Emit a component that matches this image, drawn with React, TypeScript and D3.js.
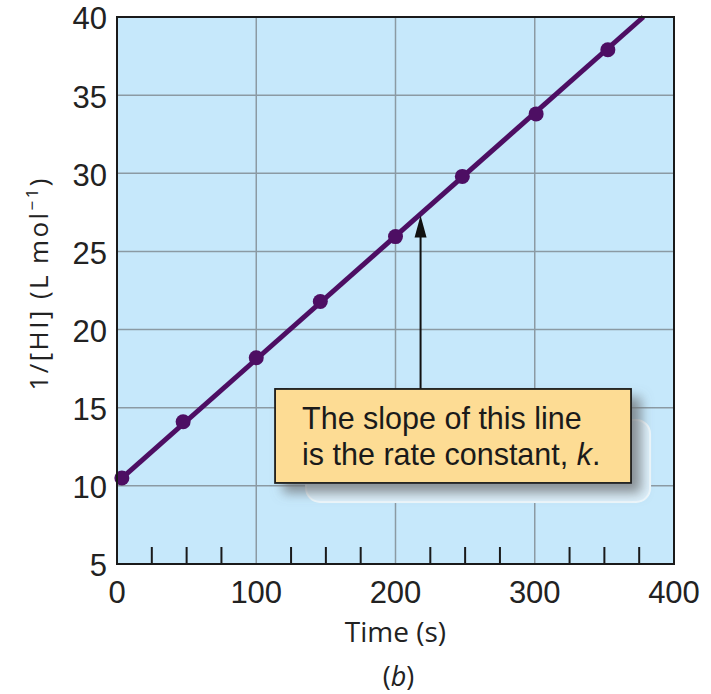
import React from 'react';
import * as d3 from 'd3';

// reading of the plotted points (time in s, 1/[HI] in L/mol)
const times = [3.5, 47.5, 100, 146, 200, 248, 301, 352.5];
const invConc = [10.5, 14.1, 18.2, 21.8, 25.95, 29.8, 33.8, 37.9];
// straight fit drawn through the points, runs out of the top of the frame
const fitTimes = [3.5, 378];
const fitValues = [10.5, 40];
const xTicks = [0, 100, 200, 300, 400];
const xMinorTicks = [25, 50, 75, 125, 150, 175, 225, 250, 275, 325, 350, 375];
const yTicks = [5, 10, 15, 20, 25, 30, 35, 40];
const noteLines = ['The slope of this line', 'is the rate constant, '];
const arrowTarget = { t: 218, v: 27.3 };

const W = 711;
const H = 694;
const margin = { top: 17, right: 37, bottom: 130, left: 117 };
const font = '"Open Sans", "Liberation Sans", Arial, sans-serif';
const tickFont = '"Liberation Sans", Arial, sans-serif';

export default function App() {
  const iw = W - margin.left - margin.right;
  const ih = H - margin.top - margin.bottom;

  const x = d3.scaleLinear().domain([0, 400]).range([0, iw]);
  const y = d3.scaleLinear().domain([5, 40]).range([ih, 0]);

  const pts = times.map((t, i) => ({ t, v: invConc[i] }));
  const fit = fitTimes.map((t, i) => ({ t, v: fitValues[i] }));
  const line = d3.line<{ t: number; v: number }>()
    .x(d => x(d.t))
    .y(d => y(d.v));

  // callout box, in plot coords
  const box = { x: x(113.5), y: y(16.2), w: 356, h: 94 };
  const ax = x(arrowTarget.t);
  const ay = y(arrowTarget.v);

  return (
    <svg width={W} height={H} style={{ position: 'absolute', left: 0, top: 0, background: '#fff' }}>
      <defs>
        <filter id="shadow" x="-20%" y="-20%" width="150%" height="170%">
          <feDropShadow dx="9" dy="9" stdDeviation="6" floodColor="#6d6f73" floodOpacity="0.75" />
        </filter>
      </defs>
      <g transform={`translate(${margin.left},${margin.top})`}>
        <rect width={iw} height={ih} fill="#c6e8fb" />

        {xTicks.slice(1, -1).map(t => (
          <line key={'gx' + t} x1={x(t)} x2={x(t)} y1={0} y2={ih} stroke="#8b9aa3" strokeWidth={1.5} />
        ))}
        {yTicks.slice(1, -1).map(v => (
          <line key={'gy' + v} x1={0} x2={iw} y1={y(v)} y2={y(v)} stroke="#8b9aa3" strokeWidth={1.5} />
        ))}
        {xMinorTicks.map(t => (
          <line key={'mt' + t} x1={x(t)} x2={x(t)} y1={ih} y2={ih - 17} stroke="#1a1a1a" strokeWidth={2} />
        ))}

        {/* pale halo under the callout */}
        <rect x={box.x + 31} y={box.y + 31} width={box.w - 12} height={box.h - 12} rx={14}
          fill="#dcf0fb" stroke="#eef8fd" strokeWidth={2} />

        <path d={line(fit) ?? ''} fill="none" stroke="#4d0e63" strokeWidth={5} />
        {pts.map((d, i) => (
          <circle key={i} cx={x(d.t)} cy={y(d.v)} r={7.5} fill="#4d0e63" />
        ))}

        {/* arrow from the box to the line */}
        <line x1={ax} x2={ax} y1={box.y} y2={ay + 18} stroke="#111" strokeWidth={2} />
        <path d={`M${ax},${ay} L${ax - 6},${ay + 22} L${ax + 6},${ay + 22} Z`} fill="#111" />

        <rect x={box.x} y={box.y} width={box.w} height={box.h} fill="#fddc94" stroke="#1a1a1a"
          strokeWidth={1.8} filter="url(#shadow)" />
        <text x={box.x + 27} y={box.y + 40} fontFamily={tickFont} fontSize={30.5} fill="#1a1a1a">
          {noteLines[0]}
        </text>
        <text x={box.x + 27} y={box.y + 76} fontFamily={tickFont} fontSize={30.5} fill="#1a1a1a">
          {noteLines[1]}<tspan fontStyle="italic">k</tspan>.
        </text>

        <rect width={iw} height={ih} fill="none" stroke="#1a1a1a" strokeWidth={2} />

        {xTicks.map(t => (
          <text key={'xl' + t} x={x(t)} y={ih + 39} textAnchor="middle" fontFamily={tickFont} fontSize={31} fill="#222">
            {t}
          </text>
        ))}
        {yTicks.map(v => (
          <text key={'yl' + v} x={-10} y={y(v)} dy="0.4em" textAnchor="end" fontFamily={tickFont} fontSize={31} fill="#222">
            {v}
          </text>
        ))}

        <text x={iw / 2} y={ih + 78} textAnchor="middle" fontFamily={font} fontSize={28} fill="#222">
          Time (s)
        </text>
        <text x={iw / 2 + 3} y={ih + 122} textAnchor="middle" fontFamily={font} fontSize={27} fill="#222">
          (<tspan fontStyle="italic">b</tspan>)
        </text>
        <text transform={`translate(${-69},${ih / 2 - 6}) rotate(-90)`} textAnchor="middle"
          fontFamily={font} fontSize={26} fill="#222" textLength={212} lengthAdjust="spacing">
          1/[HI] (L mol<tspan dy="-10" fontSize={17}>−1</tspan><tspan dy="10">)</tspan>
        </text>
      </g>
    </svg>
  );
}
